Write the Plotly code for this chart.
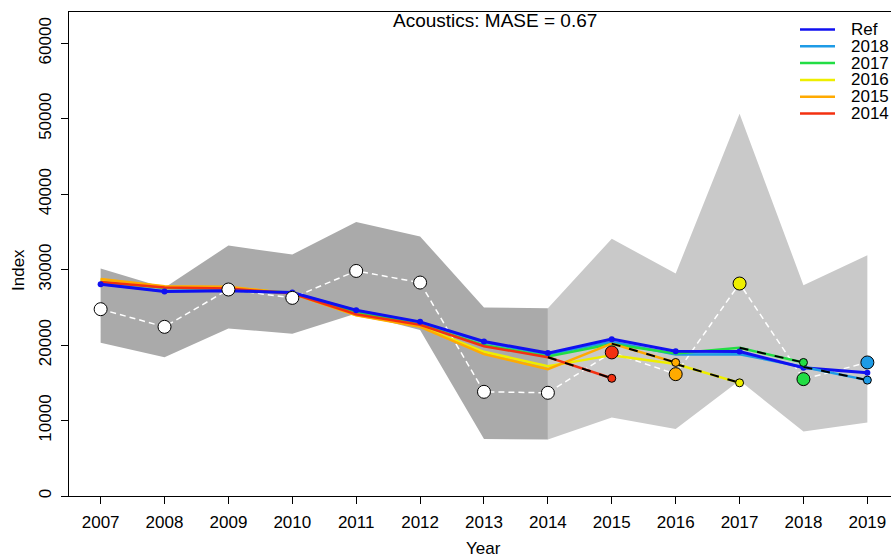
import plotly.graph_objects as go

# ---------------- data ----------------
years = list(range(2007, 2020))
obs = [24760, 22420, 27370, 26260, 29830, 28290, 13810, 13680, 19030, 16150, 28160, 15490, 17700]
obs_upper = [30150, 27600, 33200, 32000, 36300, 34400, 25000, 24900, 34100, 29480, 50670, 27940, 31900]
obs_lower = [20300, 18400, 22200, 21500, 24200, 22000, 7550, 7500, 10400, 8870, 15300, 8550, 9750]
ref = [28070, 27100, 27220, 26970, 24630, 23080, 20480, 18940, 20790, 19200, 19150, 16990, 16350]

hc_2018 = [28100, 27150, 27250, 26950, 24600, 23000, 20400, 18750, 20430, 18760, 18800, 17100]
hc_2017 = [28400, 27600, 27500, 26900, 24400, 22700, 20000, 18500, 20150, 18890, 19640]
hc_2016 = [28700, 27750, 27650, 26850, 24000, 22500, 19110, 17210, 18670, 17500]
hc_2015 = [28750, 27800, 27720, 26840, 23960, 22420, 18800, 16800, 20200]
hc_2014 = [28370, 27630, 27500, 26840, 24100, 22700, 19860, 18400]
pred = {2018: 15360, 2017: 17700, 2016: 15000, 2015: 17700, 2014: 15600}

peel_labels = ["Ref", "2018", "2017", "2016", "2015", "2014"]
title_text = "Acoustics: MASE = 0.67"
ytick_vals = [0, 10000, 20000, 30000, 40000, 50000, 60000]

# ---------------- styles ----------------
col = {"Ref": "#1010F0", "2018": "#1E9BE6", "2017": "#22DD44",
       "2016": "#EEEE00", "2015": "#FFAA00", "2014": "#F33010"}
FONT = "Liberation Sans, Arial, sans-serif"

hc = {2018: hc_2018, 2017: hc_2017, 2016: hc_2016, 2015: hc_2015, 2014: hc_2014}

fig = go.Figure()

# uncertainty bands
i14 = years.index(2014)
xd = years[:i14 + 1]
fig.add_trace(go.Scatter(x=years[i14:] + years[i14:][::-1],
                         y=obs_upper[i14:] + obs_lower[i14:][::-1],
                         fill="toself", fillcolor="#C9C9C9", line=dict(width=0),
                         mode="lines", hoverinfo="skip", showlegend=False))
fig.add_trace(go.Scatter(x=xd + xd[::-1],
                         y=obs_upper[:i14 + 1] + obs_lower[:i14 + 1][::-1],
                         fill="toself", fillcolor="#AAAAAA", line=dict(width=0),
                         mode="lines", hoverinfo="skip", showlegend=False))

# observed dashed line
fig.add_trace(go.Scatter(x=years, y=obs, mode="lines",
                         line=dict(color="white", width=1.5, dash="6px,4px"),
                         showlegend=False))

# hindcast peel lines
for p in [2018, 2017, 2016, 2015, 2014]:
    v = hc[p]
    fig.add_trace(go.Scatter(x=years[:len(v)], y=v, mode="lines",
                             line=dict(color=col[str(p)], width=2.5),
                             showlegend=False))

# reference run
fig.add_trace(go.Scatter(x=years, y=ref, mode="lines+markers",
                         line=dict(color=col["Ref"], width=3),
                         marker=dict(color=col["Ref"], size=6),
                         showlegend=False))

# dashed prediction segments
for p in [2018, 2017, 2016, 2015, 2014]:
    v = hc[p]
    xs = [p, p + 1]
    ys = [v[-1], pred[p]]
    fig.add_trace(go.Scatter(x=xs, y=ys, mode="lines",
                             line=dict(color=col[str(p)], width=2.5), showlegend=False))
    fig.add_trace(go.Scatter(x=xs, y=ys, mode="lines",
                             line=dict(color="black", width=2, dash="dash"), showlegend=False))

# observed white circles (fitted years)
fig.add_trace(go.Scatter(x=years[:i14 + 1], y=obs[:i14 + 1], mode="markers",
                         marker=dict(color="white", size=13, line=dict(color="black", width=1)),
                         showlegend=False))

# observed at prediction years (large coloured) and predictions (small)
for p in [2018, 2017, 2016, 2015, 2014]:
    yr = p + 1
    fig.add_trace(go.Scatter(x=[yr], y=[obs[years.index(yr)]], mode="markers",
                             marker=dict(color=col[str(p)], size=13,
                                         line=dict(color="black", width=1)),
                             showlegend=False))
    fig.add_trace(go.Scatter(x=[yr], y=[pred[p]], mode="markers",
                             marker=dict(color=col[str(p)], size=8,
                                         line=dict(color="black", width=1)),
                             showlegend=False))

# ---------------- layout ----------------
L, R, T, B = 69, 0, 12, 63
W, H = 891, 559
pw, ph = W - L - R, H - T - B


def px(xp):
    return (xp - L) / pw


def py(yp):
    return (H - B - yp) / ph


annotations = [
    dict(text=title_text, x=px(495), y=py(21), xref="paper", yref="paper",
         showarrow=False, font=dict(size=19, color="black", family=FONT),
         xanchor="center", yanchor="middle"),
    dict(text="Year", x=px(483), y=py(548), xref="paper", yref="paper",
         showarrow=False, font=dict(size=17, color="black", family=FONT),
         xanchor="center", yanchor="middle"),
    dict(text="Index", x=px(18), y=py(270), xref="paper", yref="paper",
         showarrow=False, textangle=-90, font=dict(size=17, color="black", family=FONT),
         xanchor="center", yanchor="middle"),
]
shapes = []
row_y = [29.5, 46.3, 63.1, 79.9, 96.7, 113.5]
for lab, yy in zip(peel_labels, row_y):
    shapes.append(dict(type="line", xref="paper", yref="paper",
                       x0=px(800), x1=px(835), y0=py(yy), y1=py(yy),
                       line=dict(color=col[lab], width=2.5)))
    annotations.append(dict(text=lab, x=px(849), y=py(yy), xref="paper", yref="paper",
                            showarrow=False, xanchor="left", yanchor="middle",
                            font=dict(size=17, color="black", family=FONT)))

fig.update_layout(
    width=W, height=H,
    margin=dict(l=L, r=R, t=T, b=B, pad=0),
    paper_bgcolor="white", plot_bgcolor="white",
    font=dict(family=FONT, size=17, color="black"),
    showlegend=False,
    annotations=annotations, shapes=shapes,
    xaxis=dict(range=[2006.505, 2019.37], tickmode="array", tickvals=years,
               ticktext=[str(y) for y in years], ticks="outside", ticklen=7,
               tickcolor="black", showline=True, linecolor="black", linewidth=1,
               mirror=True, showgrid=False, zeroline=False,
               tickfont=dict(size=17), ticklabelstandoff=4),
    yaxis=dict(range=[0, 64150], tickmode="array", tickvals=ytick_vals,
               ticktext=[str(v) for v in ytick_vals], ticks="outside", ticklen=7,
               tickcolor="black", showline=True, linecolor="black", linewidth=1,
               showgrid=False, zeroline=False, tickangle=-90,
               tickfont=dict(size=17), ticklabelstandoff=3),
)

fig.write_html("out.html", config={"displayModeBar": False},
               post_script="document.body.style.margin='0';document.body.style.overflow='hidden';")
